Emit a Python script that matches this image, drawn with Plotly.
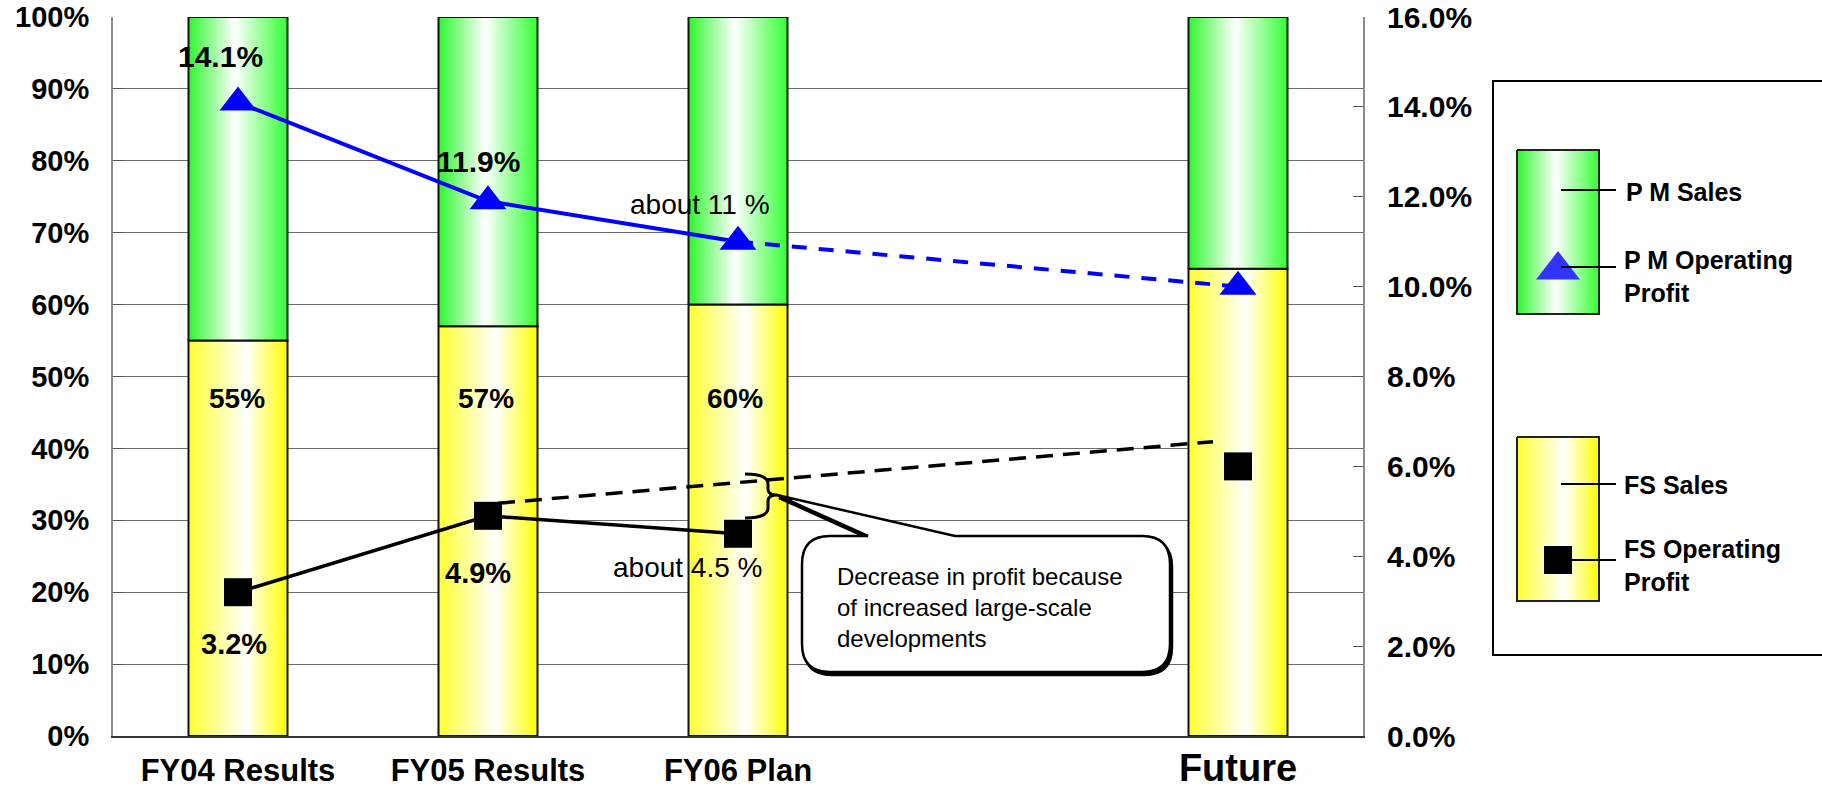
import plotly.graph_objects as go

# ---------------- data ----------------
categories = ["FY04 Results", "FY05 Results", "FY06 Plan", "Future"]
slots = [0, 1, 2, 4]                      # x slot of each category (slot 3 is an empty gap)
fs_sales = [55, 57, 60, 65]               # FS share of sales, % (left axis)
pm_sales = [45, 43, 40, 35]               # PM share of sales, % (stacked on top)
pm_profit = [14.1, 11.9, 11.0, 10.0]      # PM operating profit ratio, % (right axis)
fs_profit = [3.2, 4.9, 4.5, 6.0]          # FS operating profit ratio, % (right axis)
fs_sales_labels = ["55%", "57%", "60%", ""]
pm_profit_labels = ["14.1%", "11.9%", "about 11 %", ""]
fs_profit_labels = ["3.2%", "4.9%", "about 4.5 %", ""]
fs_trend_x = [1.04, 3.9]                  # dashed FS trend line (x slot)
fs_trend_y = [5.18, 6.55]                 # dashed FS trend line (right axis %)
left_ticks = [0, 10, 20, 30, 40, 50, 60, 70, 80, 90, 100]
right_ticks = [0, 2, 4, 6, 8, 10, 12, 14, 16]
legend_names = ["P M Sales", "P M Operating<br>Profit", "FS Sales", "FS Operating<br>Profit"]
callout_text = "Decrease in profit because<br>of increased large-scale<br>developments"

# ---------------- geometry ----------------
W, H = 1822, 788
ML, MR, MT, MB = 113, 0, 17, 52
PW = W - ML - MR
PH = H - MT - MB
PLOT_RIGHT = 1363
x_dom_end = (PLOT_RIGHT - ML) / PW
HALF_W = 0.198

FONT = "Liberation Sans, Arial, sans-serif"

GREEN_SCALE = [[0, "#2ef52e"], [0.47, "#ffffff"], [1, "#33ff33"]]
YELLOW_SCALE = [[0, "#ffff33"], [0.58, "#ffffff"], [1, "#ffff00"]]

fig = go.Figure()

# ---------------- stacked gradient bars ----------------
for s, fs, pm in zip(slots, fs_sales, pm_sales):
    x0, x1 = s - HALF_W, s + HALF_W
    fig.add_trace(go.Scatter(
        x=[x0, x1, x1, x0, x0], y=[0, 0, fs, fs, 0],
        mode="lines", fill="toself",
        fillgradient=dict(type="horizontal", colorscale=YELLOW_SCALE),
        line=dict(color="#111111", width=2), hoverinfo="skip", showlegend=False))
    fig.add_trace(go.Scatter(
        x=[x0, x1, x1, x0, x0], y=[fs, fs, fs + pm, fs + pm, fs],
        mode="lines", fill="toself",
        fillgradient=dict(type="horizontal", colorscale=GREEN_SCALE),
        line=dict(color="#111111", width=2), hoverinfo="skip", showlegend=False))

# ---------------- profit lines ----------------
fig.add_trace(go.Scatter(x=slots[:3], y=pm_profit[:3], yaxis="y2", mode="lines",
                         line=dict(color="#0000ff", width=4), hoverinfo="skip", showlegend=False))
fig.add_trace(go.Scatter(x=slots[2:], y=pm_profit[2:], yaxis="y2", mode="lines",
                         line=dict(color="#0000ff", width=4, dash="15px,12px"),
                         hoverinfo="skip", showlegend=False))
fig.add_trace(go.Scatter(x=slots[:3], y=fs_profit[:3], yaxis="y2", mode="lines",
                         line=dict(color="#000000", width=3.5), hoverinfo="skip", showlegend=False))
fig.add_trace(go.Scatter(x=fs_trend_x, y=fs_trend_y, yaxis="y2", mode="lines",
                         line=dict(color="#000000", width=3.5, dash="17px,10px"),
                         hoverinfo="skip", showlegend=False))
fig.add_trace(go.Scatter(x=slots, y=pm_profit, yaxis="y2", mode="markers",
                         marker=dict(symbol="triangle-up", size=32, color="#0000ff",
                                     line=dict(width=0)),
                         name="PM Operating Profit", showlegend=False))
fig.add_trace(go.Scatter(x=slots, y=fs_profit, yaxis="y2", mode="markers",
                         marker=dict(symbol="square", size=28, color="#000000",
                                     line=dict(width=0)),
                         name="FS Operating Profit", showlegend=False))

# ---------------- data labels ----------------
annotations = []
pm_off = [(-18, -46), (-10, -40), (-38, -37), (0, 0)]
fs_off = [(-4, 52), (-10, 57), (-51, 34), (0, 0)]
sales_off = [-1, -2, -3, 0]
for i, s in enumerate(slots):
    if pm_profit_labels[i]:
        bold = not pm_profit_labels[i].startswith("about")
        annotations.append(dict(x=s, y=pm_profit[i], xref="x", yref="y2",
                                text=pm_profit_labels[i], showarrow=False,
                                xshift=pm_off[i][0], yshift=-pm_off[i][1],
                                font=dict(family=FONT, size=30 if bold else 28, color="black",
                                          weight="bold" if bold else "normal")))
    if fs_profit_labels[i]:
        bold = not fs_profit_labels[i].startswith("about")
        annotations.append(dict(x=s, y=fs_profit[i], xref="x", yref="y2",
                                text=fs_profit_labels[i], showarrow=False,
                                xshift=fs_off[i][0], yshift=-fs_off[i][1],
                                font=dict(family=FONT, size=29 if bold else 28, color="black",
                                          weight="bold" if bold else "normal")))
    if fs_sales_labels[i]:
        annotations.append(dict(x=s, y=47.0, xref="x", yref="y",
                                text=fs_sales_labels[i], showarrow=False,
                                xshift=sales_off[i],
                                font=dict(family=FONT, size=28, color="black", weight="bold")))

# ---------------- callout + brace (pixel overlay axes x3/y3) ----------------
shapes = []
L, R, T, B, rad = 802, 1170, 536, 672, 28
tip = (777, 495)
tx1, tx2 = 868, 955


def callout_path(dx=0, dy=0):
    p = [
        f"M {L+rad+dx},{T+dy}", f"L {tx1+dx},{T+dy}", f"L {tip[0]+dx},{tip[1]+dy}",
        f"L {tx2+dx},{T+dy}", f"L {R-rad+dx},{T+dy}", f"Q {R+dx},{T+dy} {R+dx},{T+rad+dy}",
        f"L {R+dx},{B-rad+dy}", f"Q {R+dx},{B+dy} {R-rad+dx},{B+dy}",
        f"L {L+rad+dx},{B+dy}", f"Q {L+dx},{B+dy} {L+dx},{B-rad+dy}",
        f"L {L+dx},{T+rad+dy}", f"Q {L+dx},{T+dy} {L+rad+dx},{T+dy}", "Z"]
    return " ".join(p)


shapes.append(dict(type="path", path=callout_path(2, 3), xref="x3", yref="y3",
                   fillcolor="#000000", line=dict(color="#000000", width=2.5), layer="above"))
shapes.append(dict(type="path", path=callout_path(), xref="x3", yref="y3",
                   fillcolor="#ffffff", line=dict(color="#000000", width=2.5), layer="above"))
brace = ("M 745,474 Q 768,474 768,484 L 768,489 Q 768,495 777,495 "
         "Q 768,495 768,501 L 768,508 Q 768,518 745,518")
shapes.append(dict(type="path", path=brace, xref="x3", yref="y3",
                   fillcolor="rgba(0,0,0,0)", line=dict(color="#000000", width=3), layer="above"))
annotations.append(dict(x=835, y=607, xref="x3", yref="y3", text=callout_text,
                        showarrow=False, xanchor="left", yanchor="middle", align="left",
                        font=dict(family=FONT, size=24, color="black")))

# ---------------- custom legend ----------------
shapes.append(dict(type="rect", xref="x3", yref="y3", x0=1493, x1=1840, y0=81, y1=655,
                   line=dict(color="#000000", width=2), fillcolor="rgba(0,0,0,0)", layer="above"))
for (y0, y1, scale) in [(150, 314, GREEN_SCALE), (437, 601, YELLOW_SCALE)]:
    fig.add_trace(go.Scatter(
        x=[1517, 1599, 1599, 1517, 1517], y=[y0, y0, y1, y1, y0], xaxis="x3", yaxis="y3",
        mode="lines", fill="toself", fillgradient=dict(type="horizontal", colorscale=scale),
        line=dict(color="#222222", width=2), hoverinfo="skip", showlegend=False))
fig.add_trace(go.Scatter(x=[1558], y=[270], xaxis="x3", yaxis="y3", mode="markers",
                         marker=dict(symbol="triangle-up", size=38, color="#3333ff",
                                     line=dict(width=0)), hoverinfo="skip", showlegend=False))
fig.add_trace(go.Scatter(x=[1558], y=[560], xaxis="x3", yaxis="y3", mode="markers",
                         marker=dict(symbol="square", size=28, color="#000000",
                                     line=dict(width=0)), hoverinfo="skip", showlegend=False))
for (lx0, ly) in [(1561, 190), (1561, 267), (1561, 484), (1572, 560)]:
    shapes.append(dict(type="line", xref="x3", yref="y3", x0=lx0, x1=1616, y0=ly, y1=ly,
                       line=dict(color="#000000", width=2), layer="above"))
for name, (ax_, ay_) in zip(legend_names, [(1624, 192), (1622, 276), (1622, 485), (1622, 565)]):
    annotations.append(dict(x=ax_, y=ay_, xref="x3", yref="y3", text=name, showarrow=False,
                            xanchor="left", yanchor="middle", align="left",
                            font=dict(family=FONT, size=25, color="black", weight="bold")))

ticktext = [c if c != "Future" else
            "<span style='font-size:38px'>Future</span>" for c in categories]

fig.update_layout(
    width=W, height=H,
    margin=dict(l=ML, r=MR, t=MT, b=MB, pad=0),
    paper_bgcolor="white", plot_bgcolor="rgba(0,0,0,0)",
    showlegend=False,
    font=dict(family=FONT, color="black"),
    xaxis=dict(domain=[0, x_dom_end], range=[-0.5, 4.5], tickvals=slots, ticktext=ticktext,
               showgrid=False, zeroline=False, showline=True, linecolor="#333333", linewidth=1.5,
               ticks="", ticklabelstandoff=6,
               tickfont=dict(family=FONT, size=31, color="black", weight="bold"),
               fixedrange=True),
    yaxis=dict(range=[0, 100], tickvals=left_ticks, ticktext=[f"{v}%" for v in left_ticks],
               showgrid=True, gridcolor="#6a6a6a", gridwidth=1, zeroline=False,
               showline=True, linecolor="#8a8a8a", linewidth=2,
               ticks="inside", ticklen=10, tickcolor="#555555", ticklabelstandoff=16,
               tickfont=dict(family=FONT, size=29, color="black", weight="bold"),
               fixedrange=True),
    yaxis2=dict(range=[0, 16], overlaying="y", side="right", anchor="x",
                tickvals=right_ticks, ticktext=[f"{v:.1f}%" for v in right_ticks],
                showgrid=False, zeroline=False, showline=True, linecolor="#8a8a8a", linewidth=2,
                ticks="inside", ticklen=10, tickcolor="#555555", ticklabelstandoff=16,
                tickfont=dict(family=FONT, size=30, color="black", weight="bold"),
                fixedrange=True),
    xaxis3=dict(domain=[0, 1], range=[ML, W - MR], anchor="y3", visible=False, fixedrange=True),
    yaxis3=dict(domain=[0, 1], range=[H - MB, MT], anchor="x3", visible=False, fixedrange=True),
    shapes=shapes,
    annotations=annotations,
)

fig.write_html("out.html")
